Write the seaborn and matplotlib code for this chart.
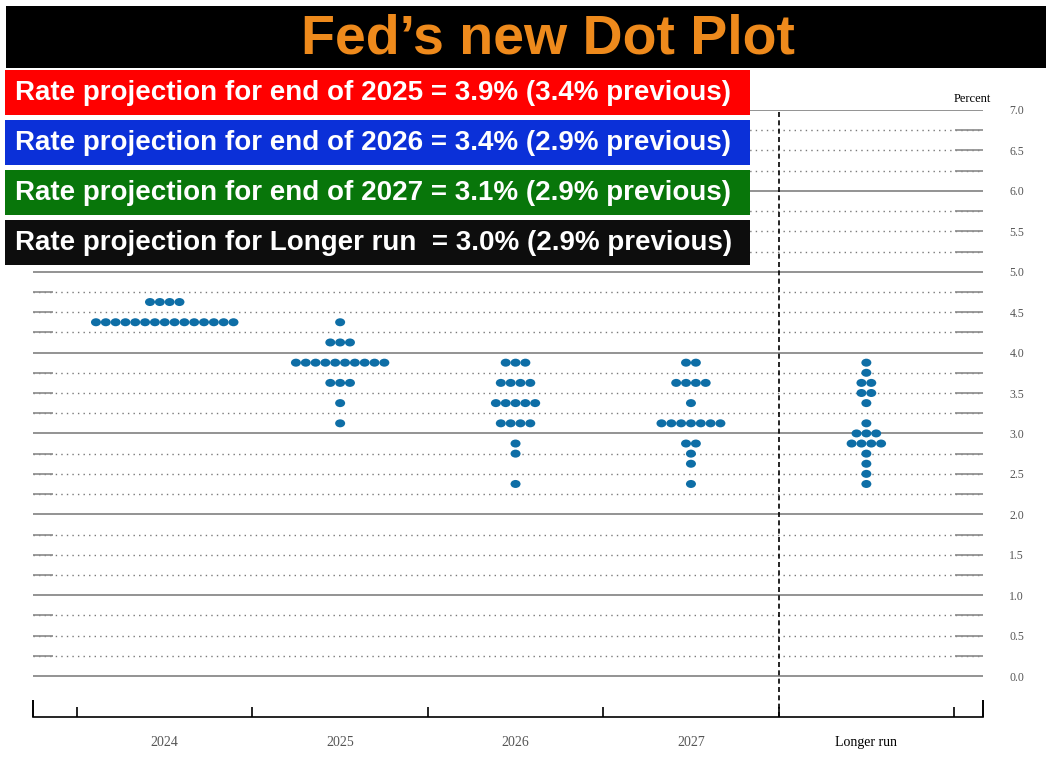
import numpy as np
import pandas as pd
import matplotlib
matplotlib.use("Agg")
import matplotlib.pyplot as plt
import matplotlib.path as mpath
from matplotlib.patches import Rectangle
import seaborn as sns

# === Dot plot data (midpoint of target range, number of participants) ===
columns = ["2024", "2025", "2026", "2027", "Longer run"]

rates_2024 = [4.625, 4.375]
counts_2024 = [4, 15]

rates_2025 = [4.375, 4.125, 3.875, 3.625, 3.375, 3.125]
counts_2025 = [1, 3, 10, 3, 1, 1]

rates_2026 = [3.875, 3.625, 3.375, 3.125, 2.875, 2.75, 2.375]
counts_2026 = [3, 4, 5, 4, 1, 1, 1]

rates_2027 = [3.875, 3.625, 3.375, 3.125, 2.875, 2.75, 2.625, 2.375]
counts_2027 = [2, 4, 1, 7, 2, 1, 1, 1]

rates_lr = [3.875, 3.75, 3.625, 3.5, 3.375, 3.125, 3.0, 2.875, 2.75, 2.625, 2.5, 2.375]
counts_lr = [1, 1, 2, 2, 1, 1, 3, 4, 1, 1, 1, 1]

box_texts = [
    "Rate projection for end of 2025 = 3.9% (3.4% previous)",
    "Rate projection for end of 2026 = 3.4% (2.9% previous)",
    "Rate projection for end of 2027 = 3.1% (2.9% previous)",
    "Rate projection for Longer run  = 3.0% (2.9% previous)",
]
box_colors = ["#ff0000", "#0b30d8", "#08760a", "#0d0d0d"]

y_labels = [f"{v:.1f}" for v in np.arange(0, 7.01, 0.5)]

# === Build long table: one row per dot ===
rows = []
all_rates = [rates_2024, rates_2025, rates_2026, rates_2027, rates_lr]
all_counts = [counts_2024, counts_2025, counts_2026, counts_2027, counts_lr]
step = 0.056
for ci, (rates, counts) in enumerate(zip(all_rates, all_counts)):
    for r, n in zip(rates, counts):
        for i in range(n):
            rows.append({"x": ci + (i - (n - 1) / 2) * step, "rate": r})
df = pd.DataFrame(rows)

sns.set_style("white")
plt.rcParams["font.family"] = ["Liberation Sans", "DejaVu Sans"]

W, H = 1046, 759
fig = plt.figure(figsize=(W / 100, H / 100), dpi=100)
ax = fig.add_axes([33 / W, 42 / H, 950 / W, 607 / H])

# grid lines
for v in np.arange(0, 7.01, 0.25):
    if abs(v - round(v)) < 1e-9:
        ax.axhline(v, color="#8a8a8a", lw=1.3, zorder=1)
    else:
        ax.axhline(v, color="#7a7a7a", lw=1.0, ls=(0, (1, 3)), zorder=1)
        ax.hlines(v, 0, 20 / 950, transform=ax.get_yaxis_transform(), color="#8a8a8a", lw=1.2, zorder=1)
        ax.hlines(v, 1 - 28 / 950, 1, transform=ax.get_yaxis_transform(), color="#8a8a8a", lw=1.2, zorder=1)

ax.axvline(3.5, color="black", lw=1.2, ls=(0, (3, 2)), ymax=1, zorder=2)

ellipse = mpath.Path.unit_circle()
ellipse = mpath.Path(ellipse.vertices * np.array([1.0, 0.8]), ellipse.codes)
sns.scatterplot(data=df, x="x", y="rate", marker=ellipse, s=52, color="#0e6ea6",
                edgecolor="none", linewidth=0, ax=ax, zorder=3, legend=False)

ax.set_xlim(-0.751, 4.665)
ax.set_ylim(-0.507, 7.0)

for s in ["top", "left", "right"]:
    ax.spines[s].set_visible(False)
ax.spines["bottom"].set_color("black")
ax.spines["bottom"].set_linewidth(1.2)

# x ticks: boundaries as marks, labels at category centres
ax.set_xticks(range(len(columns)))
ax.set_xticklabels(columns, family=["Liberation Serif"], fontsize=10)
for lab, c in zip(ax.get_xticklabels(), columns):
    lab.set_color("black" if c == "Longer run" else "#555555")
ax.tick_params(axis="x", length=0, pad=14)
tr = ax.get_xaxis_transform()
ax.vlines([-0.5, 0.5, 1.5, 2.5, 3.5, 4.5], 0, 10 / 607, transform=tr, color="black", lw=1.2)
ax.vlines([-0.751, 4.665], 0, 17 / 607, transform=tr, color="black", lw=1.4, clip_on=False)

# y labels on the right
ax.yaxis.tick_right()
ax.set_yticks(np.arange(0, 7.01, 0.5))
ax.set_yticklabels(y_labels, family=["Liberation Serif"], fontsize=8.5, color="#555555")
ax.tick_params(axis="y", length=0, pad=19)
ax.set_xlabel("")
ax.set_ylabel("")
fig.text(972 / W, 1 - 99 / H, "Percent", ha="center", va="center",
         family=["Liberation Serif"], fontsize=9, color="black")

# title banner
fig.add_artist(Rectangle((6 / W, 1 - 68 / H), (W - 6) / W, 62 / H, transform=fig.transFigure,
                         facecolor="black", edgecolor="none", zorder=5))
fig.text(548 / W, 1 - 39 / H, "Fed\u2019s new Dot Plot", ha="center", va="center",
         fontsize=40, fontweight="bold", color="#ee8a1c", zorder=6)

# coloured projection boxes
box_tops = [70, 120, 170, 220]
for top, txt, col in zip(box_tops, box_texts, box_colors):
    fig.add_artist(Rectangle((5 / W, 1 - (top + 45) / H), 745 / W, 45 / H, transform=fig.transFigure,
                             facecolor=col, edgecolor="none", zorder=5))
    fig.text(15 / W, 1 - (top + 23) / H, txt, ha="left", va="center",
             fontsize=20, fontweight="bold", color="white", zorder=6)

plt.savefig("out.png", dpi=100)
